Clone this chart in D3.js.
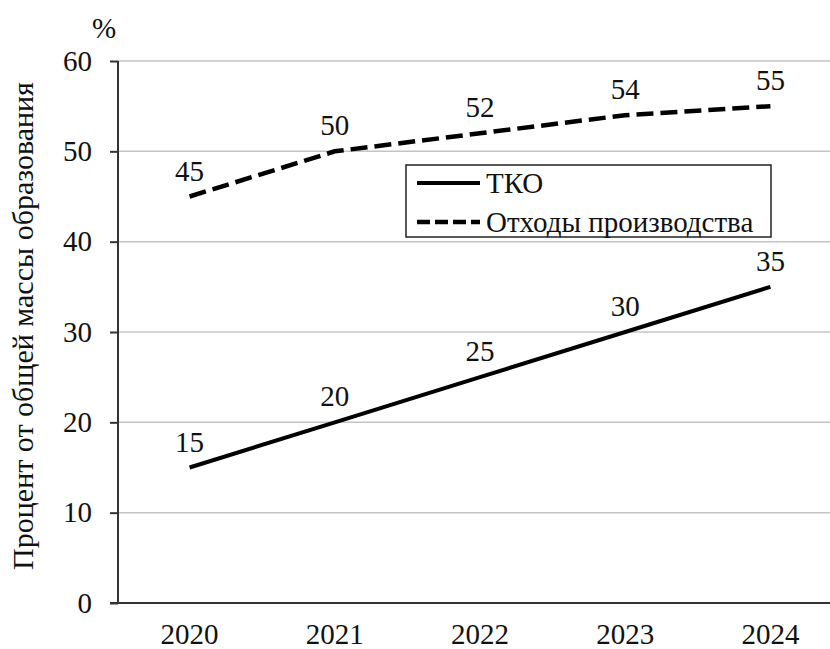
<!DOCTYPE html>
<html>
<head>
<meta charset="utf-8">
<script src="https://cdn.jsdelivr.net/npm/d3@7"></script>
<style>
  body { margin: 0; background: #fff; }
  text { font-family: "Liberation Serif", "Times New Roman", serif; fill: #111; }
</style>
</head>
<body>
<div id="chart"></div>
<script>
// data
var years = ["2020", "2021", "2022", "2023", "2024"];
var tko = [15, 20, 25, 30, 35];
var waste = [45, 50, 52, 54, 55];
var yTicks = [0, 10, 20, 30, 40, 50, 60];
var seriesNames = ["ТКО", "Отходы производства"];

var width = 830, height = 649;
var margin = { top: 61, bottom: 46, left: 118 };
var fontSize = "29px";

var svg = d3.select("#chart").append("svg")
  .attr("width", width)
  .attr("height", height);

// bands run past the right edge of the picture, the plot is cut there
var x = d3.scaleBand()
  .domain(years)
  .range([117, 843]);

var y = d3.scaleLinear()
  .domain([0, 60])
  .range([height - margin.bottom, margin.top]);

// gridlines
svg.append("g")
  .selectAll("line")
  .data(yTicks.filter(function (d) { return d > 0; }))
  .enter().append("line")
  .attr("x1", margin.left)
  .attr("x2", width)
  .attr("y1", function (d) { return y(d); })
  .attr("y2", function (d) { return y(d); })
  .attr("stroke", "#c4c4c4")
  .attr("stroke-width", 1.5);

// y axis
var yAxis = d3.axisLeft(y).tickValues(yTicks).tickSize(8).tickPadding(18);
var gy = svg.append("g")
  .attr("transform", "translate(" + margin.left + ",0)")
  .call(yAxis);
gy.select(".domain").attr("stroke", "#333").attr("stroke-width", 2)
  .attr("d", "M0," + y(60) + "V" + y(0));
gy.selectAll(".tick line").attr("stroke", "#333").attr("stroke-width", 2);
gy.selectAll(".tick text")
  .style("font-family", "'Liberation Serif', serif")
  .style("font-size", fontSize)
  .attr("fill", "#111");

// x axis
var xAxis = d3.axisBottom(x).tickSize(0).tickPadding(20);
var gx = svg.append("g")
  .attr("transform", "translate(0," + y(0) + ")")
  .call(xAxis);
gx.select(".domain").attr("stroke", "#333").attr("stroke-width", 2)
  .attr("d", "M" + (margin.left - 8) + ",0H" + width);
gx.selectAll(".tick text")
  .style("font-family", "'Liberation Serif', serif")
  .style("font-size", fontSize)
  .attr("fill", "#111");

// axis titles
svg.append("text")
  .attr("x", 104)
  .attr("y", 38)
  .attr("text-anchor", "middle")
  .style("font-size", fontSize)
  .text("%");

svg.append("text")
  .attr("transform", "translate(33,326) rotate(-90)")
  .attr("text-anchor", "middle")
  .style("font-size", "30px")
  .text("Процент от общей массы образования");

// lines
var line = d3.line()
  .x(function (d, i) { return x(years[i]) + x.bandwidth() / 2; })
  .y(function (d) { return y(d); });

svg.append("path")
  .datum(tko)
  .attr("d", line)
  .attr("fill", "none")
  .attr("stroke", "#000")
  .attr("stroke-width", 4);

svg.append("path")
  .datum(waste)
  .attr("d", line)
  .attr("fill", "none")
  .attr("stroke", "#000")
  .attr("stroke-width", 4.5)
  .attr("stroke-dasharray", "17,7");

// data labels
function labels(data) {
  svg.append("g")
    .selectAll("text")
    .data(data)
    .enter().append("text")
    .attr("x", function (d, i) { return x(years[i]) + x.bandwidth() / 2; })
    .attr("y", function (d) { return y(d) - 16; })
    .attr("text-anchor", "middle")
    .style("font-size", fontSize)
    .text(function (d) { return d; });
}
labels(tko);
labels(waste);

// legend
var legend = svg.append("g").attr("transform", "translate(406,165)");
legend.append("rect")
  .attr("width", 365)
  .attr("height", 72)
  .attr("fill", "#fff")
  .attr("stroke", "#222")
  .attr("stroke-width", 1.5);

seriesNames.forEach(function (name, i) {
  var ly = 18 + i * 39;
  legend.append("line")
    .attr("x1", 11).attr("x2", 74)
    .attr("y1", ly).attr("y2", ly)
    .attr("stroke", "#000")
    .attr("stroke-width", i === 0 ? 4 : 4.5)
    .attr("stroke-dasharray", i === 0 ? null : "13,5");
  legend.append("text")
    .attr("x", 80)
    .attr("y", ly + 10)
    .style("font-size", "29px")
    .text(name);
});
</script>
</body>
</html>
